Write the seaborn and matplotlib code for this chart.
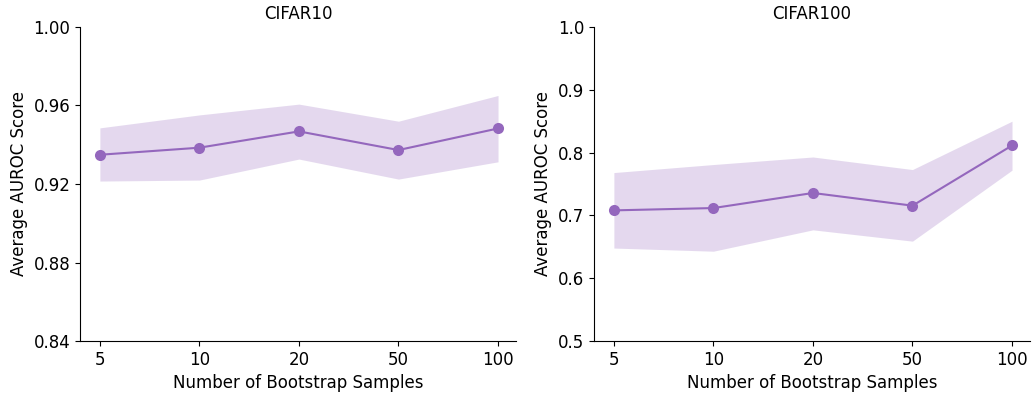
import numpy as np
import pandas as pd
import matplotlib
matplotlib.use("Agg")
import matplotlib.pyplot as plt
import seaborn as sns

samples = ["5", "10", "20", "50", "100"]

c10_mean = [0.9349, 0.9385, 0.9468, 0.9373, 0.9483]
c10_upper = [0.9486, 0.9552, 0.9607, 0.9520, 0.9651]
c10_lower = [0.9215, 0.9220, 0.9327, 0.9225, 0.9313]

c100_mean = [0.708, 0.7117, 0.7357, 0.7155, 0.8113]
c100_upper = [0.7682, 0.7810, 0.7930, 0.7730, 0.8500]
c100_lower = [0.6480, 0.6430, 0.6770, 0.6590, 0.7720]

color = "#9467bd"

sns.set_style("ticks")
plt.rcParams["font.family"] = ["DejaVu Sans"]
plt.rcParams["text.color"] = "black"
plt.rcParams["axes.labelcolor"] = "black"

fig, axes = plt.subplots(1, 2, figsize=(10.32, 3.94), dpi=100)


def draw(ax, mean, lower, upper, title, ylim, yticks, fmt):
    df = pd.DataFrame({"samples": samples, "score": mean})
    sns.lineplot(data=df, x="samples", y="score", ax=ax, color=color,
                 marker="o", markersize=8, markeredgewidth=0, linewidth=1.5)
    ax.fill_between(np.arange(len(samples)), lower, upper, color=color,
                    alpha=0.25, linewidth=0)
    ax.set_title(title, fontsize=12, color="black")
    ax.set_xlabel("Number of Bootstrap Samples", fontsize=12)
    ax.set_ylabel("Average AUROC Score", fontsize=12)
    ax.set_ylim(*ylim)
    ax.set_yticks(yticks)
    ax.set_yticklabels([fmt.format(t) for t in yticks])
    ax.set_xlim(-0.2, 4.18)
    ax.tick_params(labelsize=12, colors="black")
    for s in ["left", "bottom"]:
        ax.spines[s].set_color("black")
    sns.despine(ax=ax)


draw(axes[0], c10_mean, c10_lower, c10_upper, "CIFAR10", (0.84, 1.0),
     [0.84, 0.88, 0.92, 0.96, 1.00], "{:.2f}")
draw(axes[1], c100_mean, c100_lower, c100_upper, "CIFAR100", (0.5, 1.0),
     [0.5, 0.6, 0.7, 0.8, 0.9, 1.0], "{:.1f}")

fig.subplots_adjust(left=0.0775, right=0.998, top=0.9315, bottom=0.1345, wspace=0.179)
fig.savefig("out.png", dpi=100)
